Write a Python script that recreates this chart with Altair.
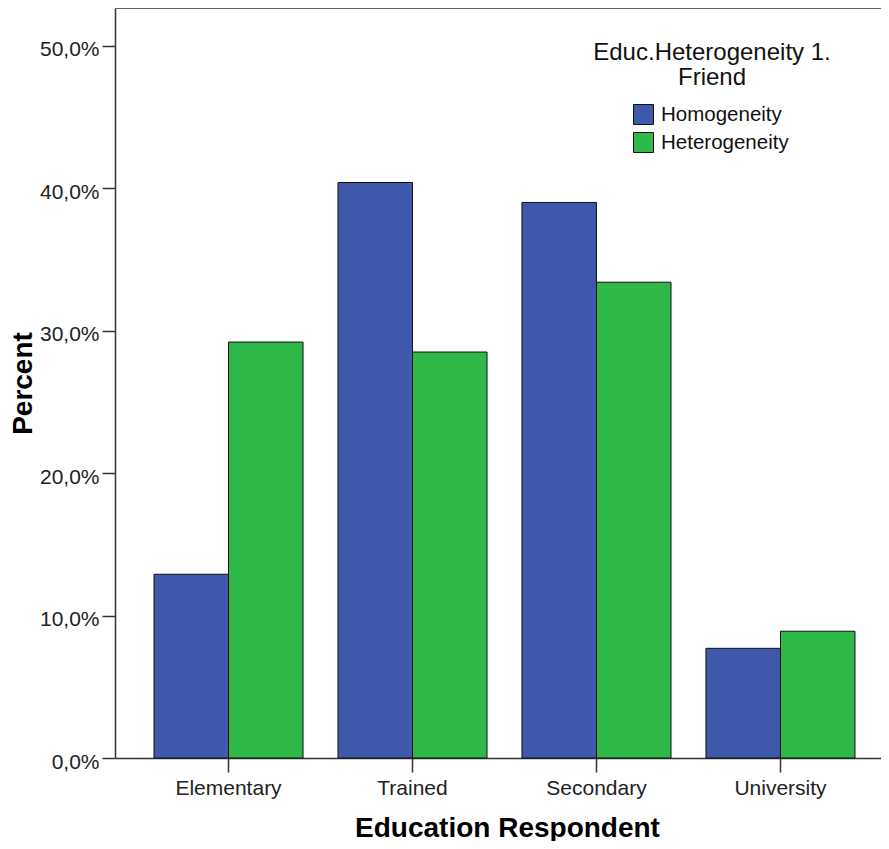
import altair as alt
import pandas as pd

categories = ["Elementary", "Trained", "Secondary", "University"]
groups = ["Homogeneity", "Heterogeneity"]
homogeneity = [12.9, 40.4, 39.0, 7.7]
heterogeneity = [29.2, 28.5, 33.4, 8.9]
colors = ["#3E58AC", "#2EB848"]
y_ticks = [0, 10, 20, 30, 40, 50]
legend_title = ["Educ.Heterogeneity 1.", "Friend"]

rows = []
for c, h, t in zip(categories, homogeneity, heterogeneity):
    rows.append({"edu": c, "group": groups[0], "pct": h})
    rows.append({"edu": c, "group": groups[1], "pct": t})
df = pd.DataFrame(rows)

FONT = "Liberation Sans"
W, H = 766, 750
XR = 779

bars = alt.Chart(df).mark_bar(stroke="#111", strokeWidth=1).encode(
    x=alt.X(
        "edu:N",
        sort=categories,
        scale=alt.Scale(range=[0, XR], paddingInner=0.19, paddingOuter=0.212),
        axis=alt.Axis(
            title="Education Respondent",
            labelAngle=0,
            domainColor="#333",
            domainWidth=1.5,
            tickColor="#333",
            tickWidth=1.5,
            tickSize=14,
            labelFont=FONT,
            labelFontSize=21,
            labelColor="#222",
            labelBaseline="alphabetic",
            labelPadding=22,
            titleFont=FONT,
            titleFontSize=28,
            titleFontWeight="bold",
            titleColor="#000",
            titleBaseline="alphabetic",
            titleY=78,
            titleX=392,
            grid=False,
        ),
    ),
    xOffset=alt.XOffset("group:N", sort=groups,
                        scale=alt.Scale(paddingInner=0, paddingOuter=0)),
    y=alt.Y(
        "pct:Q",
        scale=alt.Scale(domain=[0, 52.65], nice=False, zero=True),
        axis=alt.Axis(
            title="Percent",
            values=y_ticks,
            labelExpr="replace(format(datum.value, '.1f'), '.', ',') + '%'",
            domainColor="#333",
            domainWidth=1.5,
            tickColor="#333",
            tickWidth=1.5,
            tickSize=13,
            labelFont=FONT,
            labelFontSize=21,
            labelColor="#222",
            labelPadding=3,
            labelBaseline="middle",
            labelOffset=4,
            titleFont=FONT,
            titleFontSize=28,
            titleFontWeight="bold",
            titleColor="#000",
            titleBaseline="alphabetic",
            titleAngle=270,
            titleX=-84,
            grid=False,
        ),
    ),
    color=alt.Color(
        "group:N",
        sort=groups,
        scale=alt.Scale(domain=groups, range=colors),
        legend=alt.Legend(
            title=None,
            orient="none",
            legendX=518,
            legendY=96,
            padding=0,
            symbolType="square",
            symbolSize=400,
            symbolStrokeColor="#111",
            symbolStrokeWidth=1,
            symbolOpacity=1,
            labelFont=FONT,
            labelFontSize=20.5,
            labelColor="#111",
            labelOffset=7,
            rowPadding=3,
        ),
    ),
)

border = alt.Chart(alt.Data(values=[{}])).mark_rule(color="#666", strokeWidth=2).encode(
    x=alt.value(0), x2=alt.value(XR), y=alt.value(0)
)

ltitle = alt.Chart(alt.Data(values=[{}])).mark_text(
    font=FONT, fontSize=24, lineHeight=24.5, align="center",
    baseline="alphabetic", color="#111"
).encode(x=alt.value(597), y=alt.value(52), text=alt.value(legend_title))

chart = alt.layer(bars, border, ltitle).properties(
    width=W,
    height=H,
    padding={"left": 107, "top": 0, "right": 0, "bottom": 83},
    autosize=alt.AutoSizeParams(type="none"),
    background="white",
).configure_view(stroke=None)

chart.save("out.html", embed_options={"renderer": "svg", "actions": False})
